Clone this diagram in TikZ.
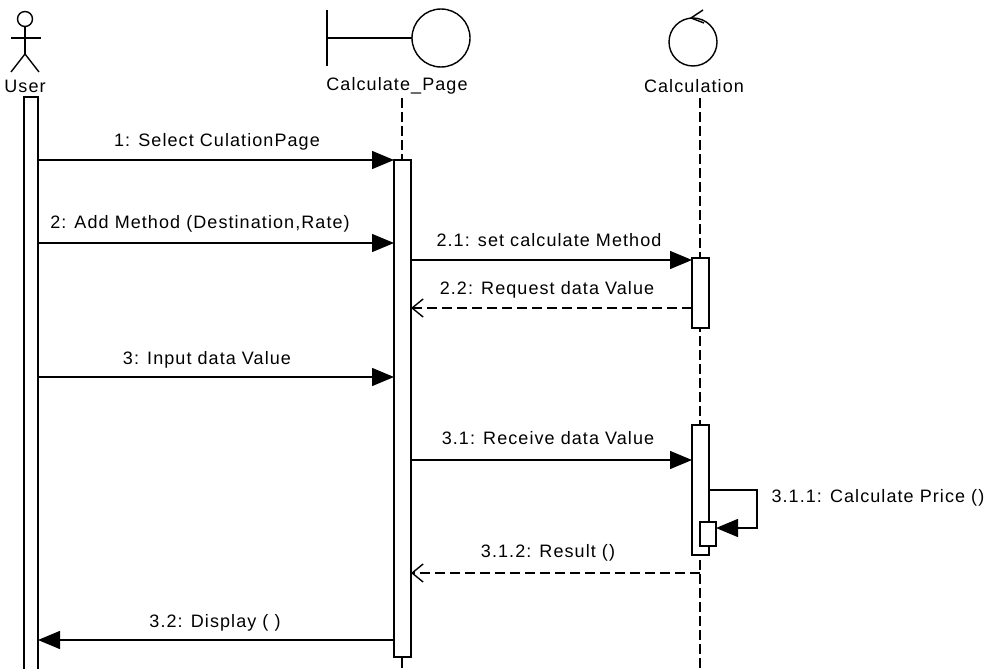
\documentclass[tikz,border=0pt]{standalone}
\usepackage{fontspec}
\setmainfont{Liberation Sans}[LetterSpace=6]
\usetikzlibrary{arrows.meta}
\begin{document}
\begin{tikzpicture}[x=1pt,y=-1pt, line width=1.4pt,
  lbl/.style={font=\fontsize{18}{20}\selectfont, inner sep=0pt},
  msg/.style={-{Triangle[length=22pt,width=18pt]}},
  ret/.style={dash pattern=on 10pt off 5pt, -{Straight Barb[length=11pt,width=18pt]}},
  life/.style={dash pattern=on 10pt off 4pt},
  act/.style={draw, fill=white}]
\useasboundingbox (0,0) rectangle (988,669);
% ---- User actor
\draw (25,19) circle[radius=7.5pt];
\draw (25,26.5) -- (25,54);
\draw (11,38) -- (41,38);
\draw (11,72) -- (25,54) -- (39,72);
\node[lbl] (user) at (25,86) {User};
\draw[act] (24,97) rectangle (38,680);
% ---- Calculate_Page boundary
\draw (327,10) -- (327,66);
\draw (327,38) -- (412,38);
\draw (441,38) circle[radius=29pt];
\node[lbl] (page) at (397,86) {Calculate\_Page};
\draw[life] (402,98) -- (402,669);
\draw[act] (394,160) rectangle (411,657);
% ---- Calculation control
\draw (693,42) circle[radius=24pt];
\draw (703,10) -- (691,18) -- (704,23);
\node[lbl] (calc) at (694,86) {Calculation};
\draw[life] (700,98) -- (700,669);
\draw[act] (692,258) rectangle (709,328);
\draw[act] (692,425) rectangle (709,555);
\draw[act] (700,522) rectangle (716,546);
% ---- coordinates
\coordinate (u1) at (38,160);  \coordinate (p1) at (394,160);
\coordinate (u2) at (38,243);  \coordinate (p2) at (394,243);
\coordinate (p21) at (411,260); \coordinate (c21) at (692,260);
\coordinate (c22) at (692,308); \coordinate (p22) at (411,308);
\coordinate (u3) at (38,377);  \coordinate (p3) at (394,377);
\coordinate (p31) at (411,460); \coordinate (c31) at (692,460);
\coordinate (c311a) at (709,490); \coordinate (c311b) at (716,528);
\coordinate (c312) at (700,573); \coordinate (p312) at (411,573);
\coordinate (p32) at (394,640); \coordinate (u32) at (38,640);
% ---- messages
\draw[msg] (u1) -- (p1);
\node[lbl] at (217,142) {1: Select CulationPage};
\draw[msg] (u2) -- (p2);
\node[lbl] at (200,224) {2: Add Method (Destination,Rate)};
\draw[msg] (p21) -- (c21);
\node[lbl] at (549,240) {2.1: set calculate Method};
\draw[ret] (c22) -- (p22);
\node[lbl] at (547,290) {2.2: Request data Value};
\draw[msg] (u3) -- (p3);
\node[lbl] at (207,360) {3: Input data Value};
\draw[msg] (p31) -- (c31);
\node[lbl] at (548,438) {3.1: Receive data Value};
\draw[msg] (c311a) -- (757,490) -- (757,528) -- (c311b);
\node[lbl, anchor=east] at (985,498) {3.1.1: Calculate Price ()};
\draw[ret] (c312) -- (p312);
\node[lbl] at (548,553) {3.1.2: Result ()};
\draw[msg] (p32) -- (u32);
\node[lbl] at (215,623) {3.2: Display ( )};
\end{tikzpicture}
\end{document}
